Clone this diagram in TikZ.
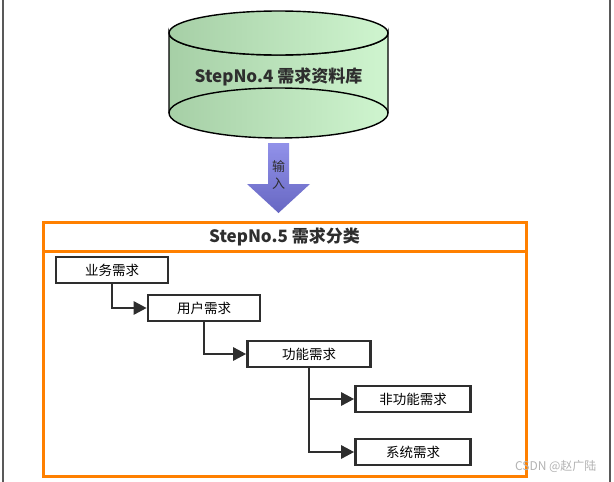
\documentclass[tikz,border=0pt]{standalone}
\usepackage{fontspec}
\setmainfont{Noto Sans CJK SC}
\usetikzlibrary{arrows.meta}
\definecolor{org}{HTML}{FF8000}
\definecolor{dk}{HTML}{2E2E2E}
\definecolor{gL}{HTML}{A6CFA6}
\definecolor{gR}{HTML}{CFF5CF}
\tikzset{
  box/.style={draw=dk,line width=2.6pt,minimum height=26pt,inner sep=0pt,font=\fontsize{13.5}{15}\selectfont},
  conn/.style={draw=dk,line width=2.6pt,-{Triangle[length=13pt,width=13pt]}},
}
\begin{document}
\begin{tikzpicture}[x=1pt,y=-1pt]
\useasboundingbox (0,0) rectangle (614,482);
\draw[gray!70!black,line width=1.2pt] (3,0) -- (3,482) (610,0) -- (610,482);
% cylinder
\shade[left color=gL,right color=gR,draw=black,line width=1.4pt]
  (169,33) -- (169,113) arc[start angle=180,end angle=0,x radius=109.5,y radius=25] -- (388,33) arc[start angle=0,end angle=180,x radius=109.5,y radius=22] -- cycle;
\draw[line width=1.4pt] (169,113) arc[start angle=180,end angle=360,x radius=109.5,y radius=25];
\shade[left color=gL,right color=gR,draw=black,line width=1.4pt]
  (278.5,33) ellipse[x radius=109.5,y radius=22];
\node[font=\fontsize{17}{19}\selectfont\bfseries,text=dk] (db) at (278.5,77) {StepNo.4 需求资料库};
% arrow
\shade[top color=blue!45!white!90!black,bottom color=blue!60!black!70,opacity=0.85]
  (268,143) -- (289,143) -- (289,184) -- (310,184) -- (278.5,213) -- (247,184) -- (268,184) -- cycle;
\node[font=\fontsize{13}{17}\selectfont,text=dk,align=center] (in) at (278.5,175) {输\\入};
% outer boxes
\draw[org,line width=3pt] (43,222) rectangle (526,476);
\draw[org,line width=3pt] (43,222) rectangle (526,251);
\node[font=\fontsize{17}{19}\selectfont\bfseries,text=dk] (t5) at (284.5,237) {StepNo.5 需求分类};
% nodes
\node[box,minimum width=112pt] (a) at (112,270) {业务需求};
\node[box,minimum width=112pt] (b) at (204,308) {用户需求};
\node[box,minimum width=123pt] (c) at (309,354) {功能需求};
\node[box,minimum width=115pt] (d) at (413,399) {非功能需求};
\node[box,minimum width=115pt] (e) at (413,452) {系统需求};
\draw[conn] (a.south) |- (b.west);
\draw[conn] (b.south) |- (c.west);
\draw[conn] (c.south) |- (d.west);
\draw[conn] (c.south) |- (e.west);
\node[font=\fontsize{12}{14}\selectfont,text=gray!60,anchor=east] (wm) at (600,466) {CSDN @赵广陆};
\end{tikzpicture}
\end{document}
